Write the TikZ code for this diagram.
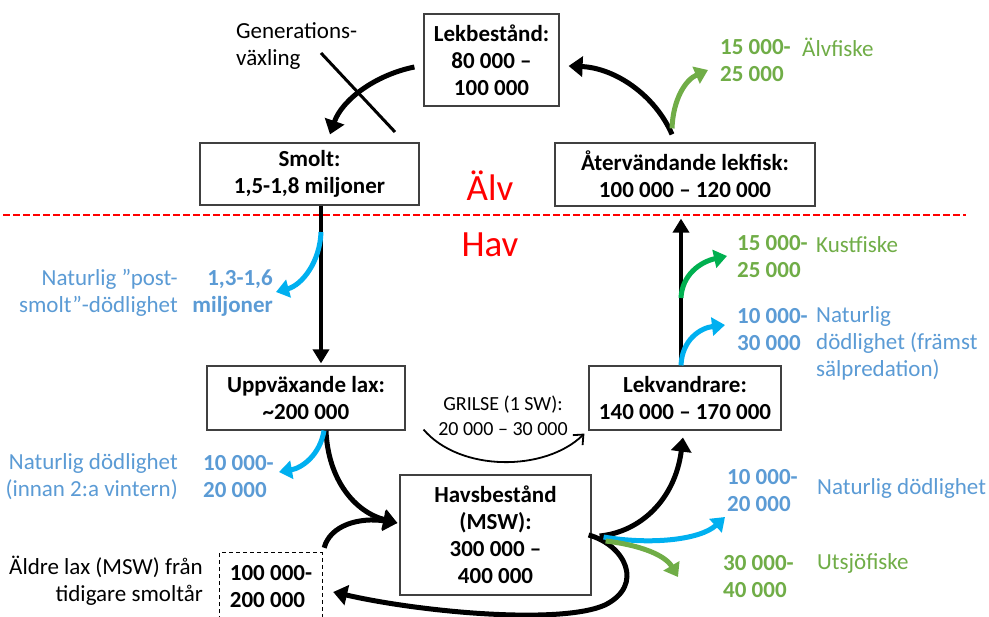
\documentclass[tikz,border=0pt]{standalone}
\usepackage{fontspec}
\setmainfont{Carlito}
\usetikzlibrary{arrows.meta}
\definecolor{tblue}{HTML}{5B9BD5}
\definecolor{tgreen}{HTML}{70AD47}
\definecolor{ablue}{HTML}{00B0F0}
\definecolor{agreen}{HTML}{00B050}
\definecolor{ared}{HTML}{FF0000}
\begin{document}
\begin{tikzpicture}[x=1pt,y=-1pt,
  box/.style={draw=black!75, line width=1.2pt, align=center, font=\fontsize{23}{27}\selectfont\bfseries, inner sep=0pt},
  lbl/.style={font=\fontsize{23}{27}\selectfont, inner sep=0pt},
  num/.style={font=\fontsize{23}{27}\selectfont\bfseries, inner sep=0pt, align=left},
  flow/.style={line width=5pt, -{Triangle[length=14pt,width=20pt]}},
  vflow/.style={line width=4.5pt, -{Triangle[length=14pt,width=16pt]}},
  branch/.style={line width=5pt, -{Triangle[length=13pt,width=18pt]}},
  thinflow/.style={line width=1.8pt, -{Straight Barb[length=8pt,width=14pt,line width=1.8pt]}}
]
\useasboundingbox (0,0) rectangle (989,617);
\fill[white] (0,0) rectangle (989,617);

% boxes
\node[box, minimum width=135pt, minimum height=92pt] (lek) at (491.5,60) {Lekbestånd:\\80 000 –\\100 000};
\node[box, minimum width=219pt, minimum height=62pt] (smolt) at (309.5,174) {Smolt:\\1,5-1,8 miljoner};
\node[box, minimum width=260pt, minimum height=63pt] (ater) at (685,174.5) {Återvändande lekfisk:\\100 000 – 120 000};
\node[box, minimum width=198pt, minimum height=64pt] (upp) at (306,398) {Uppväxande lax:\\\textasciitilde200 000};
\node[box, minimum width=192pt, minimum height=64pt] (lekv) at (685,398) {Lekvandrare:\\140 000 – 170 000};
\node[box, minimum width=191pt, minimum height=120pt] (hav) at (495.5,535) {Havsbestånd\\(MSW):\\300 000 –\\400 000};
\node[num, minimum width=102pt, minimum height=68pt] (dbox) at (271,587) {100 000-\\200 000};
\draw[line width=1pt, dash pattern=on 4pt off 3pt] ([yshift=-20pt]dbox.south west) -- (dbox.north west) -- (dbox.north east) -- ([yshift=-20pt]dbox.south east);

% river / sea divider
\coordinate (dl) at (3,215);
\coordinate (dr) at (966,215);
\draw[ared, line width=1.5pt, dash pattern=on 7pt off 3pt] (dl) -- (dr);
\node[text=ared, font=\fontsize{37}{42}\selectfont, inner sep=0pt] (alv) at (490,186) {Älv};
\node[text=ared, font=\fontsize{37}{42}\selectfont, inner sep=0pt] (hav2) at (490,245) {Hav};

% labels
\node[lbl, anchor=west, align=left] (gen) at (236,46) {Generations-\\växling};
\node[num, anchor=west, text=tgreen] (n1) at (720,61) {15 000-\\25 000};
\node[lbl, anchor=west, text=tgreen] (t1) at (802,47) {Älvfiske};
\node[lbl, anchor=east, align=right, text=tblue] (t2) at (178,293) {Naturlig ”post-\\smolt”-dödlighet};
\node[num, anchor=east, align=right, text=tblue] (n2) at (273,293) {1,3-1,6\\miljoner};
\node[lbl, anchor=east, align=right, text=tblue] (t3) at (178,477) {Naturlig dödlighet\\(innan 2:a vintern)};
\node[num, anchor=west, text=tblue] (n3) at (203,477) {10 000-\\20 000};
\node[num, anchor=west, text=tgreen] (n4) at (737,257) {15 000-\\25 000};
\node[lbl, anchor=west, text=tgreen] (t4) at (816,245) {Kustfiske};
\node[num, anchor=west, text=tblue] (n5) at (737,330) {10 000-\\30 000};
\node[lbl, anchor=west, align=left, text=tblue] (t5) at (816,343) {Naturlig\\dödlighet (främst\\sälpredation)};
\node[num, anchor=west, text=tblue] (n6) at (727,491) {10 000-\\20 000};
\node[lbl, anchor=west, text=tblue] (t6) at (817,488) {Naturlig dödlighet};
\node[num, anchor=west, text=tgreen] (n7) at (723,577) {30 000-\\40 000};
\node[lbl, anchor=west, text=tgreen] (t7) at (817,563) {Utsjöfiske};
\node[lbl, anchor=east, align=right] (t8) at (203,581) {Äldre lax (MSW) från\\tidigare smoltår};
\node[font=\fontsize{20}{25}\selectfont, inner sep=0pt, align=center] (gr) at (503,416) {GRILSE (1 SW):\\20 000 – 30 000};

% generation change
\coordinate (x1) at (321,53);
\coordinate (x2) at (395,132);
\draw[line width=3pt] (x1) -- (x2);
\draw[flow] ([shift={(-9,7)}]lek.west) .. controls (375,75) and (342,100) .. ([shift={(20.5,-8)}]smolt.north);

% top right
\draw[flow] ([shift={(-13,-8)}]ater.north) .. controls (655,95) and (615,68) .. ([shift={(9,6)}]lek.east);
\draw[branch, tgreen] ([shift={(-13,-14)}]ater.north) .. controls (673,100) and (685,80) .. (708,70);

% left column
\draw[vflow] ([xshift=11.5pt]smolt.south) -- ([shift={(15,-2)}]upp.north);
\coordinate (bs1) at (321,232);
\draw[branch, ablue] (bs1) .. controls (320,262) and (302,285) .. (276,292);
\draw[flow] ([xshift=20pt]upp.south) .. controls (328,480) and (355,512) .. ([shift={(-2,-12)}]hav.west);
\draw[branch, ablue] ([xshift=18pt]upp.south) .. controls (320,455) and (302,468) .. (279,472);
\draw[flow] ([shift={(2,-5)}]dbox.north east) .. controls (330,525) and (360,517) .. ([shift={(-2,-12)}]hav.west);

% grilse
\draw[thinflow] ([shift={(18,-1)}]upp.south east) .. controls (460,472) and (545,472) .. ([shift={(-4,3)}]lekv.south west);

% havsbestand outflows
\draw[flow] ([xshift=-3pt]hav.east) .. controls (625,545) and (645,585) .. (605,605) .. controls (560,625) and (420,612) .. ([shift={(11,5)}]dbox.east);
\draw[flow] ([shift={(8,1)}]hav.east) .. controls (640,532) and (675,500) .. ([shift={(-2,7)}]lekv.south);
\draw[branch, ablue] ([shift={(12,2)}]hav.east) .. controls (650,545) and (700,540) .. (725,517);
\draw[branch, tgreen] ([shift={(14,6)}]hav.east) .. controls (640,545) and (665,555) .. (678,577);

% right column
\draw[vflow] ([xshift=-4pt]lekv.north) -- ([shift={(-4,12)}]ater.south);
\draw[branch, ablue] ([xshift=-4pt]lekv.north) .. controls (682,340) and (700,328) .. (725,325);
\coordinate (bs2) at (681,298);
\draw[branch, agreen] (bs2) .. controls (682,275) and (700,262) .. (727,256);
\end{tikzpicture}
\end{document}
